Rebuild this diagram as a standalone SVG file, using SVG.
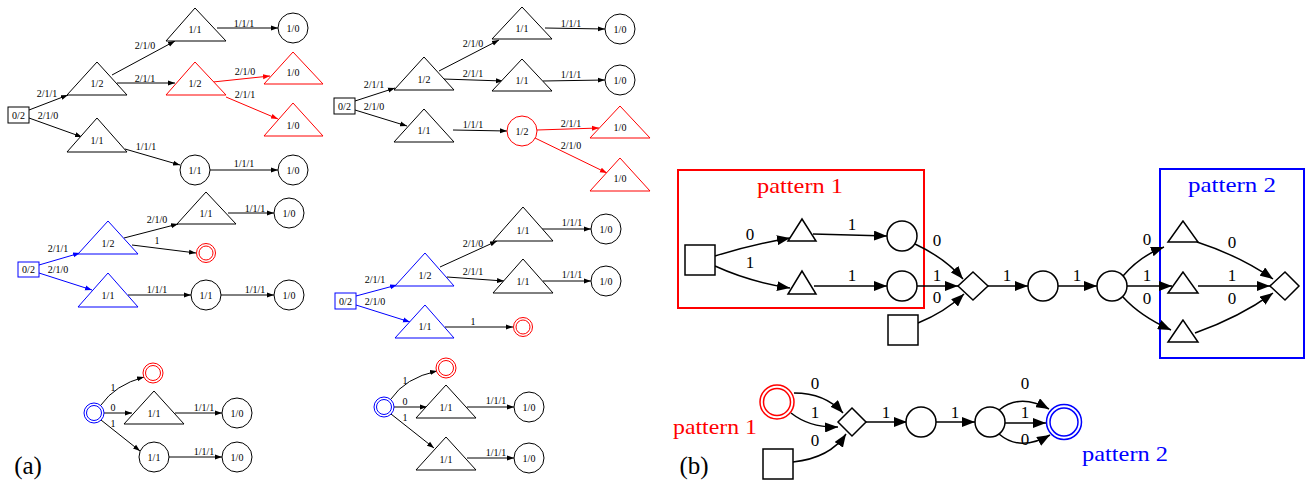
<svg xmlns="http://www.w3.org/2000/svg" width="1307" height="485" viewBox="0 0 1307 485">
<defs>
  <marker id="ak" markerWidth="8" markerHeight="6" refX="7" refY="3" orient="auto" markerUnits="userSpaceOnUse"><path d="M0,0.5 L7,3 L0,5.5 z" fill="#000"/></marker>
  <marker id="ar" markerWidth="8" markerHeight="6" refX="7" refY="3" orient="auto" markerUnits="userSpaceOnUse"><path d="M0,0.5 L7,3 L0,5.5 z" fill="#f00"/></marker>
  <marker id="ab" markerWidth="8" markerHeight="6" refX="7" refY="3" orient="auto" markerUnits="userSpaceOnUse"><path d="M0,0.5 L7,3 L0,5.5 z" fill="#00f"/></marker>
  <marker id="big" markerWidth="14" markerHeight="10" refX="13" refY="5" orient="auto" markerUnits="userSpaceOnUse"><path d="M0,0 L13,5 L0,10 z" fill="#000"/></marker>
</defs>
<style>
  text { font-family: "Liberation Serif", "Times New Roman", serif; fill: #000; }
  .n { fill: #fff; stroke: #000; stroke-width: 1; }
  .nr { fill: #fff; stroke: #f00; stroke-width: 1; }
  .nb { fill: #fff; stroke: #00f; stroke-width: 1; }
  .t { font-size: 10px; text-anchor: middle; }
  .l { font-size: 10px; text-anchor: middle; }
  .e { fill: none; stroke: #000; stroke-width: 1; marker-end: url(#ak); }
  .er { fill: none; stroke: #f00; stroke-width: 1; marker-end: url(#ar); }
  .eb { fill: none; stroke: #00f; stroke-width: 1; marker-end: url(#ab); }
  .N { fill: #fff; stroke: #000; stroke-width: 1.5; }
  .E { fill: none; stroke: #000; stroke-width: 1.5; marker-end: url(#big); }
  .L { font-size: 17px; text-anchor: middle; }
  .P { font-size: 21px; text-anchor: middle; }
  .red { fill: #f00; }
  .blue { fill: #00f; }
  .cap { font-size: 25px; text-anchor: middle; }
</style>
<rect width="1307" height="485" fill="#fff"/>

<!-- ===== (a) graph 1 ===== -->
<g id="a1-edges">
  <path class="e" d="M29,110 L68,95"/><text class="l" x="47" y="96.5">2/1/1</text>
  <path class="e" d="M29,118 L82,137"/><text class="l" x="48" y="118.5">2/1/0</text>
  <path class="e" d="M112,75 L175,41"/><text class="l" x="145" y="48.5">2/1/0</text>
  <path class="e" d="M117,83 L175,83"/><text class="l" x="145" y="81.5">2/1/1</text>
  <path class="e" d="M217,28 L278,28"/><text class="l" x="244" y="26.5">1/1/1</text>
  <path class="er" d="M213,82 L270,76"/><text class="l" x="245" y="74.5">2/1/0</text>
  <path class="er" d="M226,97 L278,119"/><text class="l" x="245" y="97.5">2/1/1</text>
  <path class="e" d="M125,149 L180,165"/><text class="l" x="146" y="149.5">1/1/1</text>
  <path class="e" d="M210,170 L278,170"/><text class="l" x="244" y="166.5">1/1/1</text>
</g>
<g id="a1-s"><rect class="n" x="8" y="107" width="21" height="16"/><text class="t" x="18.5" y="118.5">0/2</text></g>
<g id="a1-t1"><polygon class="n" points="97,62 67,95 127,95"/><text class="t" x="97" y="86.5">1/2</text></g>
<g id="a1-t2"><polygon class="n" points="97,118 67,152 127,152"/><text class="t" x="97" y="143.5">1/1</text></g>
<g id="a1-t3"><polygon class="n" points="195,8 166,41 226,41"/><text class="t" x="195" y="32.5">1/1</text></g>
<g id="a1-t4"><polygon class="nr" points="195,62 166,95 226,95"/><text class="t" x="195" y="86.5">1/2</text></g>
<g id="a1-c1"><circle class="n" cx="293" cy="28" r="15"/><text class="t" x="293" y="31.5">1/0</text></g>
<g id="a1-r1"><polygon class="nr" points="293,52 264,84 323,84"/><text class="t" x="293" y="75.5">1/0</text></g>
<g id="a1-r2"><polygon class="nr" points="293,103 264,136 323,136"/><text class="t" x="293" y="128.5">1/0</text></g>
<g id="a1-c2"><circle class="n" cx="195" cy="170" r="15"/><text class="t" x="195" y="173.5">1/1</text></g>
<g id="a1-c3"><circle class="n" cx="293" cy="170" r="15"/><text class="t" x="293" y="173.5">1/0</text></g>

<!-- ===== (a) graph 2 ===== -->
<g id="a2-edges">
  <path class="e" d="M355,101 L395,88"/><text class="l" x="374" y="87.5">2/1/1</text>
  <path class="e" d="M355,110 L407,126"/><text class="l" x="374" y="109.5">2/1/0</text>
  <path class="e" d="M439,71 L499,40"/><text class="l" x="473" y="46.5">2/1/0</text>
  <path class="e" d="M443,79 L503,81"/><text class="l" x="473" y="76.5">2/1/1</text>
  <path class="e" d="M545,28 L605,29"/><text class="l" x="571" y="26.5">1/1/1</text>
  <path class="e" d="M543,81 L605,80"/><text class="l" x="571" y="77.5">1/1/1</text>
  <path class="e" d="M453,130 L507,131"/><text class="l" x="473" y="127.5">1/1/1</text>
  <path class="er" d="M537,130 L599,128"/><text class="l" x="571" y="126.5">2/1/1</text>
  <path class="er" d="M535,138 L607,173"/><text class="l" x="571" y="148.5">2/1/0</text>
</g>
<g id="a2-s"><rect class="n" x="334" y="98" width="21" height="16"/><text class="t" x="344.5" y="109.5">0/2</text></g>
<g id="a2-t1"><polygon class="n" points="424,57 394,90 454,90"/><text class="t" x="424" y="82.5">1/2</text></g>
<g id="a2-t2"><polygon class="n" points="424,109 394,142 454,142"/><text class="t" x="424" y="133.5">1/1</text></g>
<g id="a2-t3"><polygon class="n" points="522,7 492,39 552,39"/><text class="t" x="522" y="31.5">1/1</text></g>
<g id="a2-t4"><polygon class="n" points="522,59 492,91 552,91"/><text class="t" x="522" y="83.5">1/1</text></g>
<g id="a2-c1"><circle class="n" cx="620" cy="29" r="15"/><text class="t" x="620" y="32.5">1/0</text></g>
<g id="a2-c2"><circle class="n" cx="620" cy="80" r="15"/><text class="t" x="620" y="83.5">1/0</text></g>
<g id="a2-c3"><circle class="nr" cx="522" cy="131" r="15"/><text class="t" x="522" y="134.5">1/2</text></g>
<g id="a2-r1"><polygon class="nr" points="620,106 590,138 650,138"/><text class="t" x="620" y="130.5">1/0</text></g>
<g id="a2-r2"><polygon class="nr" points="620,158 590,191 650,191"/><text class="t" x="620" y="181.5">1/0</text></g>

<!-- ===== (a) graph 3 ===== -->
<g id="a3-edges">
  <path class="eb" d="M39,265 L80,253"/><text class="l" x="58" y="251.5">2/1/1</text>
  <path class="eb" d="M39,273 L92,290"/><text class="l" x="58" y="272.5">2/1/0</text>
  <path class="e" d="M124,238 L178,224"/><text class="l" x="157" y="222.5">2/1/0</text>
  <path class="e" d="M132,245 L196,253"/><text class="l" x="157" y="243.5">1</text>
  <path class="e" d="M228,213 L274,213"/><text class="l" x="255" y="211.5">1/1/1</text>
  <path class="e" d="M128,295 L191,295"/><text class="l" x="157" y="292.5">1/1/1</text>
  <path class="e" d="M221,295 L274,295"/><text class="l" x="255" y="292.5">1/1/1</text>
</g>
<g id="a3-s"><rect class="nb" x="18" y="262" width="21" height="15"/><text class="t" x="28.5" y="273">0/2</text></g>
<g id="a3-t1"><polygon class="nb" points="108,221 78,254 138,254"/><text class="t" x="108" y="246.5">1/2</text></g>
<g id="a3-t2"><polygon class="nb" points="108,273 78,307 138,307"/><text class="t" x="108" y="298.5">1/1</text></g>
<g id="a3-t3"><polygon class="n" points="206,192 177,224 236,224"/><text class="t" x="206" y="216.5">1/1</text></g>
<g id="a3-c1"><circle class="n" cx="289" cy="213" r="15"/><text class="t" x="289" y="216.5">1/0</text></g>
<g id="a3-f"><circle class="nr" cx="206" cy="253" r="9.5"/><circle class="nr" cx="206" cy="253" r="7"/></g>
<g id="a3-c2"><circle class="n" cx="206" cy="295" r="15"/><text class="t" x="206" y="298.5">1/1</text></g>
<g id="a3-c3"><circle class="n" cx="289" cy="295" r="15"/><text class="t" x="289" y="298.5">1/0</text></g>

<!-- ===== (a) graph 4 ===== -->
<g id="a4-edges">
  <path class="eb" d="M356,296 L397,285"/><text class="l" x="375" y="282.5">2/1/1</text>
  <path class="eb" d="M356,305 L410,322"/><text class="l" x="375" y="304.5">2/1/0</text>
  <path class="e" d="M440,267 L497,241"/><text class="l" x="473" y="246.5">2/1/0</text>
  <path class="e" d="M447,277 L504,281"/><text class="l" x="473" y="274.5">2/1/1</text>
  <path class="e" d="M542,229 L591,229"/><text class="l" x="572" y="225.5">1/1/1</text>
  <path class="e" d="M543,281 L591,281"/><text class="l" x="572" y="277.5">1/1/1</text>
  <path class="e" d="M445,327 L513,327"/><text class="l" x="473" y="324.5">1</text>
</g>
<g id="a4-s"><rect class="nb" x="335" y="293" width="21" height="16"/><text class="t" x="345.5" y="304.5">0/2</text></g>
<g id="a4-t1"><polygon class="nb" points="425,253 395,286 454,286"/><text class="t" x="425" y="278.5">1/2</text></g>
<g id="a4-t2"><polygon class="nb" points="425,305 395,338 454,338"/><text class="t" x="425" y="329.5">1/1</text></g>
<g id="a4-t3"><polygon class="n" points="523,207 493,241 553,241"/><text class="t" x="523" y="233.5">1/1</text></g>
<g id="a4-t4"><polygon class="n" points="523,259 493,293 553,293"/><text class="t" x="523" y="284.5">1/1</text></g>
<g id="a4-c1"><circle class="n" cx="606" cy="229" r="15"/><text class="t" x="606" y="232.5">1/0</text></g>
<g id="a4-c2"><circle class="n" cx="606" cy="281" r="15"/><text class="t" x="606" y="284.5">1/0</text></g>
<g id="a4-f"><circle class="nr" cx="523" cy="327" r="9.5"/><circle class="nr" cx="523" cy="327" r="7"/></g>

<!-- ===== (a) graph 5 ===== -->
<g id="a5-edges">
  <path class="e" d="M101,405 Q115,385 144,377"/><text class="l" x="113" y="390.5">1</text>
  <path class="e" d="M104,413 L132,413"/><text class="l" x="113" y="410.5">0</text>
  <path class="e" d="M101,420 L140,451"/><text class="l" x="113" y="426.5">1</text>
  <path class="e" d="M175,413 L222,413"/><text class="l" x="204" y="410.5">1/1/1</text>
  <path class="e" d="M169,457 L222,457"/><text class="l" x="204" y="454.5">1/1/1</text>
</g>
<g id="a5-i"><circle class="nb" cx="94" cy="413" r="10"/><circle class="nb" cx="94" cy="413" r="7.5"/></g>
<g id="a5-f"><circle class="nr" cx="153" cy="373" r="10"/><circle class="nr" cx="153" cy="373" r="7.5"/></g>
<g id="a5-t1"><polygon class="n" points="154,391 124,424 184,424"/><text class="t" x="154" y="416.5">1/1</text></g>
<g id="a5-c1"><circle class="n" cx="237" cy="413" r="15"/><text class="t" x="237" y="416.5">1/0</text></g>
<g id="a5-c2"><circle class="n" cx="154" cy="457" r="15"/><text class="t" x="154" y="460.5">1/1</text></g>
<g id="a5-c3"><circle class="n" cx="237" cy="457" r="15"/><text class="t" x="237" y="460.5">1/0</text></g>

<!-- ===== (a) graph 6 ===== -->
<g id="a6-edges">
  <path class="e" d="M391,399 Q405,378 437,371"/><text class="l" x="405" y="383.5">1</text>
  <path class="e" d="M394,407 L427,407"/><text class="l" x="405" y="404.5">0</text>
  <path class="e" d="M391,414 L434,448"/><text class="l" x="405" y="420.5">1</text>
  <path class="e" d="M467,407 L514,407"/><text class="l" x="496" y="403.5">1/1/1</text>
  <path class="e" d="M467,458 L514,458"/><text class="l" x="496" y="455.5">1/1/1</text>
</g>
<g id="a6-i"><circle class="nb" cx="384" cy="407" r="10"/><circle class="nb" cx="384" cy="407" r="7.5"/></g>
<g id="a6-f"><circle class="nr" cx="446" cy="368" r="10"/><circle class="nr" cx="446" cy="368" r="7.5"/></g>
<g id="a6-t1"><polygon class="n" points="446,385 416,418 476,418"/><text class="t" x="446" y="410.5">1/1</text></g>
<g id="a6-t2"><polygon class="n" points="446,437 416,470 476,470"/><text class="t" x="446" y="462.5">1/1</text></g>
<g id="a6-c1"><circle class="n" cx="529" cy="407" r="15"/><text class="t" x="529" y="410.5">1/0</text></g>
<g id="a6-c2"><circle class="n" cx="529" cy="458" r="15"/><text class="t" x="529" y="461.5">1/0</text></g>

<text class="cap" x="28" y="474">(a)</text>

<!-- ===== (b) upper graph ===== -->
<g id="pattern1-box"><rect x="678" y="170" width="246" height="138" fill="none" stroke="#f00" stroke-width="2"/><text class="P red" x="800" y="193" textLength="86" lengthAdjust="spacingAndGlyphs">pattern 1</text></g>
<g id="pattern2-box"><rect x="1160" y="169" width="144" height="189" fill="none" stroke="#00f" stroke-width="2"/><text class="P blue" x="1232" y="192" textLength="88" lengthAdjust="spacingAndGlyphs">pattern 2</text></g>

<g id="b-edges">
  <path class="E" d="M715,256 Q750,245 790,238"/><text class="L" x="750" y="240">0</text>
  <path class="E" d="M715,266 Q750,282 790,288"/><text class="L" x="750" y="268">1</text>
  <path class="E" d="M813,234 L887,236"/><text class="L" x="852" y="230">1</text>
  <path class="E" d="M814,286 L887,286"/><text class="L" x="852" y="281">1</text>
  <path class="E" d="M915,244 Q945,258 963,279"/><text class="L" x="937" y="246">0</text>
  <path class="E" d="M917,286 L958,286"/><text class="L" x="937" y="281">1</text>
  <path class="E" d="M918,323 Q945,312 964,294"/><text class="L" x="937" y="303">0</text>
  <path class="E" d="M988,286 L1028,286"/><text class="L" x="1007" y="281">1</text>
  <path class="E" d="M1058,286 L1097,286"/><text class="L" x="1077" y="281">1</text>
  <path class="E" d="M1123,276 Q1140,256 1164,247"/><text class="L" x="1147" y="245">0</text>
  <path class="E" d="M1127,286 L1172,286"/><text class="L" x="1147" y="281">1</text>
  <path class="E" d="M1123,297 Q1140,316 1171,330"/><text class="L" x="1147" y="304">0</text>
  <path class="E" d="M1197,242 Q1240,256 1273,279"/><text class="L" x="1232" y="248">0</text>
  <path class="E" d="M1198,286 L1270,286"/><text class="L" x="1232" y="281">1</text>
  <path class="E" d="M1195,333 Q1240,317 1273,293"/><text class="L" x="1232" y="304">0</text>
</g>
<g id="b-sq1"><rect class="N" x="685" y="245" width="30" height="30"/></g>
<g id="b-tu"><polygon class="N" points="802,219 788,241 816,241"/></g>
<g id="b-tl"><polygon class="N" points="802,271 788,294 816,294"/></g>
<g id="b-cu"><circle class="N" cx="902" cy="236" r="15"/></g>
<g id="b-cl"><circle class="N" cx="902" cy="286" r="15"/></g>
<g id="b-d1"><polygon class="N" points="973,272 988,286 973,300 958,286"/></g>
<g id="b-sq2"><rect class="N" x="888" y="315" width="30" height="30"/></g>
<g id="b-c3"><circle class="N" cx="1043" cy="286" r="15"/></g>
<g id="b-c4"><circle class="N" cx="1112" cy="286" r="15"/></g>
<g id="b-tu2"><polygon class="N" points="1183,221 1168,242 1198,242"/></g>
<g id="b-tm2"><polygon class="N" points="1183,272 1168,293 1198,293"/></g>
<g id="b-tl2"><polygon class="N" points="1183,320 1168,342 1198,342"/></g>
<g id="b-d2"><polygon class="N" points="1285,272 1299,286 1285,300 1270,286"/></g>

<!-- ===== (b) lower graph ===== -->
<g id="c-edges">
  <path class="E" d="M794,393 Q825,393 843,413"/><text class="L" x="815" y="389">0</text>
  <path class="E" d="M791,413 Q810,428 838,427"/><text class="L" x="815" y="418">1</text>
  <path class="E" d="M793,462 Q830,458 846,434"/><text class="L" x="815" y="446">0</text>
  <path class="E" d="M866,422 L907,422"/><text class="L" x="886" y="418">1</text>
  <path class="E" d="M936,422 L975,422"/><text class="L" x="955" y="418">1</text>
  <path class="E" d="M999,410 Q1020,393 1049,409"/><text class="L" x="1025" y="389">0</text>
  <path class="E" d="M1005,423 L1046,423"/><text class="L" x="1025" y="418">1</text>
  <path class="E" d="M999,434 Q1020,452 1050,435"/><text class="L" x="1025" y="445">0</text>
</g>
<g id="c-p1"><circle cx="777" cy="402" r="17" fill="#fff" stroke="#f00" stroke-width="1.5"/><circle cx="777" cy="402" r="13.5" fill="none" stroke="#f00" stroke-width="1.5"/></g>
<g id="c-d"><polygon class="N" points="852,408 866,422 852,436 838,422"/></g>
<g id="c-sq"><rect class="N" x="763" y="449" width="30" height="30"/></g>
<g id="c-c1"><circle class="N" cx="921" cy="422" r="15"/></g>
<g id="c-c2"><circle class="N" cx="990" cy="422" r="15"/></g>
<g id="c-p2"><circle cx="1064" cy="422" r="17.5" fill="#fff" stroke="#00f" stroke-width="1.5"/><circle cx="1064" cy="422" r="14" fill="none" stroke="#00f" stroke-width="1.5"/></g>

<text class="P red" x="715" y="434" textLength="84" lengthAdjust="spacingAndGlyphs">pattern 1</text>
<text class="P blue" x="1125" y="461" textLength="86" lengthAdjust="spacingAndGlyphs">pattern 2</text>
<text class="cap" x="694" y="474">(b)</text>
</svg>
